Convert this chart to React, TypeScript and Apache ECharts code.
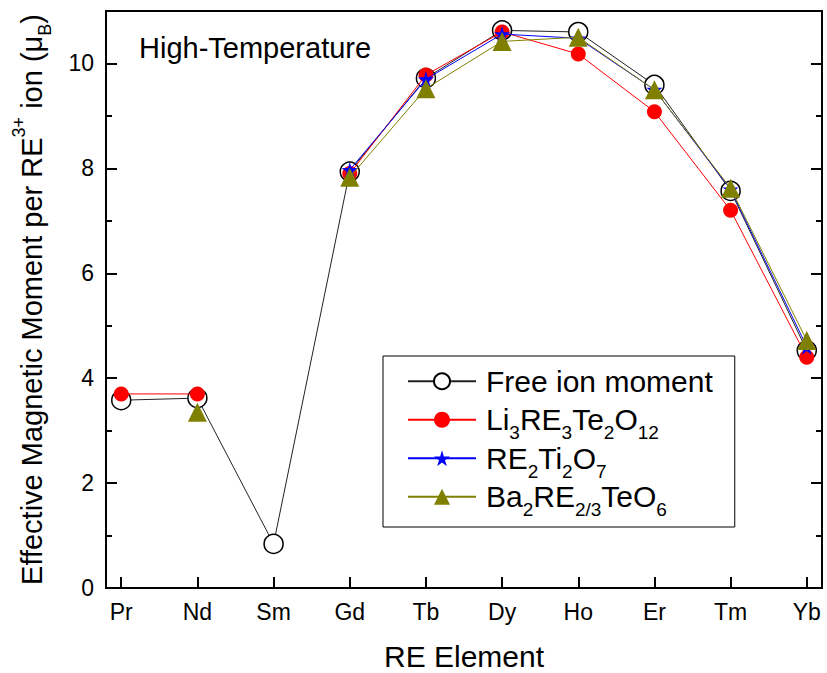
import React, { useEffect, useRef } from 'react';
import * as echarts from 'echarts';

const categories = ['Pr', 'Nd', 'Sm', 'Gd', 'Tb', 'Dy', 'Ho', 'Er', 'Tm', 'Yb'];
const freeIon = [3.58, 3.62, 0.84, 7.94, 9.72, 10.63, 10.6, 9.59, 7.57, 4.53];
const li3RE3Te2O12 = [3.7, 3.7, null, 7.9, 9.78, 10.6, 10.18, 9.08, 7.2, 4.4];
const re2Ti2O7 = [null, null, null, 7.97, 9.7, 10.56, 10.48, 9.5, 7.6, 4.6];
const ba2RETeO6 = [null, 3.35, null, 7.83, 9.52, 10.42, 10.5, 9.5, 7.62, 4.72];
const yMajorTicks = [0, 2, 4, 6, 8, 10];
const yMinorTicks = [1, 3, 5, 7, 9];

const FONT = "'Liberation Sans', Arial, sans-serif";
const STAR = 'path://M50,0 L61,35 L98,35 L68,57 L79,91 L50,70 L21,91 L32,57 L2,35 L39,35 Z';

const legendLabels: Record<string, string> = {
  'Free ion moment': 'Free ion moment',
  'Li3RE3Te2O12': 'Li{s|3}RE{s|3}Te{s|2}O{s|12}',
  'RE2Ti2O7': 'RE{s|2}Ti{s|2}O{s|7}',
  'Ba2RE2/3TeO6': 'Ba{s|2}RE{s|2/3}TeO{s|6}',
};

const toPoints = (vals: (number | null)[]) =>
  vals.map((v, i) => [i, v == null ? '-' : v]);

export default function App() {
  const ref = useRef<HTMLDivElement>(null);
  useEffect(() => {
    if (!ref.current) return;
    const chart = echarts.init(ref.current, undefined, { renderer: 'svg' });
    const idx = categories.map((_, i) => i);
    const tickLine = { color: '#000', width: 2 };
    const yBase = {
      type: 'value' as const,
      min: 0,
      max: 11,
      splitLine: { show: false },
    };
    chart.setOption({
      animation: false,
      backgroundColor: '#fff',
      textStyle: { fontFamily: FONT },
      title: {
        text: 'High-Temperature',
        left: 139,
        top: 33,
        padding: 0,
        textStyle: { fontSize: 29, fontWeight: 'normal', color: '#000', fontFamily: FONT },
      },
      grid: {
        left: 106,
        right: 5,
        top: 11,
        bottom: 85,
        show: true,
        borderColor: '#000',
        borderWidth: 2,
        backgroundColor: 'transparent',
        containLabel: false,
        outerBoundsMode: 'none',
      },
      legend: {
        orient: 'vertical',
        left: 383,
        top: 356,
        padding: [3, 22, 8, 24],
        itemGap: -6,
        itemWidth: 68,
        itemHeight: 20,
        borderColor: '#000',
        borderWidth: 1,
        backgroundColor: '#fff',
        data: ['Free ion moment', 'Li3RE3Te2O12', 'RE2Ti2O7', 'Ba2RE2/3TeO6'],
        formatter: (name: string) => legendLabels[name],
        textStyle: {
          fontSize: 30,
          fontFamily: FONT,
          color: '#000',
          lineHeight: 44.5,
          padding: [0, 0, 0, 5],
          rich: {
            s: { fontSize: 19, lineHeight: 19, verticalAlign: 'bottom', fontFamily: FONT, color: '#000' },
          },
        },
      },
      xAxis: {
        type: 'value',
        min: -0.2,
        max: 9.2,
        name: 'RE Element',
        nameLocation: 'middle',
        nameGap: 53,
        nameTextStyle: { fontSize: 30, color: '#000', fontFamily: FONT },
        axisLine: { show: true, onZero: false, lineStyle: { color: '#000', width: 2 } },
        axisTick: { show: true, inside: true, length: 11, customValues: idx, lineStyle: tickLine },
        axisLabel: {
          customValues: idx,
          formatter: (v: number) => categories[Math.round(v)] ?? '',
          fontSize: 23,
          color: '#000',
          margin: 12,
          fontFamily: FONT,
        },
        splitLine: { show: false },
      },
      yAxis: [
        {
          ...yBase,
          position: 'left',
          name: 'Effective Magnetic Moment per RE{p|3+} ion (μ{s|B})',
          nameLocation: 'middle',
          nameGap: 52,
          nameRotate: 90,
          nameTextStyle: {
            fontSize: 29,
            color: '#000',
            fontFamily: FONT,
            lineHeight: 44,
            rich: {
              p: { fontSize: 18, lineHeight: 18, verticalAlign: 'top', fontFamily: FONT, color: '#000' },
              s: { fontSize: 18, lineHeight: 18, verticalAlign: 'bottom', fontFamily: FONT, color: '#000' },
            },
          },
          axisLine: { show: true, onZero: false, lineStyle: { color: '#000', width: 2 } },
          axisTick: { show: true, inside: true, length: 11, customValues: yMajorTicks, lineStyle: tickLine },
          axisLabel: { customValues: yMajorTicks, fontSize: 23, color: '#000', margin: 12, fontFamily: FONT },
        },
        {
          ...yBase,
          position: 'left',
          axisLine: { show: false, onZero: false },
          axisTick: { show: true, inside: true, length: 6, customValues: yMinorTicks, lineStyle: tickLine },
          axisLabel: { show: false },
        },
        {
          ...yBase,
          position: 'right',
          axisLine: { show: true, onZero: false, lineStyle: { color: '#000', width: 2 } },
          axisTick: { show: true, inside: true, length: 11, customValues: yMajorTicks, lineStyle: tickLine },
          axisLabel: { show: false },
        },
        {
          ...yBase,
          position: 'right',
          axisLine: { show: false, onZero: false },
          axisTick: { show: true, inside: true, length: 6, customValues: yMinorTicks, lineStyle: tickLine },
          axisLabel: { show: false },
        },
      ],
      series: [
        {
          name: 'Free ion moment',
          type: 'line',
          data: toPoints(freeIon),
          symbol: 'circle',
          symbolSize: 19,
          lineStyle: { color: '#222', width: 1 },
          itemStyle: { color: '#fff', borderColor: '#000', borderWidth: 1.5 },
          z: 2,
        },
        {
          name: 'Li3RE3Te2O12',
          type: 'line',
          data: toPoints(li3RE3Te2O12),
          connectNulls: false,
          symbol: 'circle',
          symbolSize: 15,
          lineStyle: { color: '#ff0000', width: 1 },
          itemStyle: { color: '#ff0000', borderWidth: 0 },
          z: 3,
        },
        {
          name: 'RE2Ti2O7',
          type: 'line',
          data: toPoints(re2Ti2O7),
          connectNulls: false,
          symbol: STAR,
          symbolSize: 16,
          lineStyle: { color: '#0000ff', width: 1 },
          itemStyle: { color: '#0000ff', borderWidth: 0 },
          z: 4,
        },
        {
          name: 'Ba2RE2/3TeO6',
          type: 'line',
          data: toPoints(ba2RETeO6),
          connectNulls: false,
          symbol: 'triangle',
          symbolSize: 19,
          lineStyle: { color: '#808000', width: 1 },
          itemStyle: { color: '#808000', borderWidth: 0 },
          z: 5,
        },
      ],
    });
    return () => chart.dispose();
  }, []);
  return <div ref={ref} style={{ width: 827, height: 673, position: 'absolute', left: 0, top: 0 }} />;
}
